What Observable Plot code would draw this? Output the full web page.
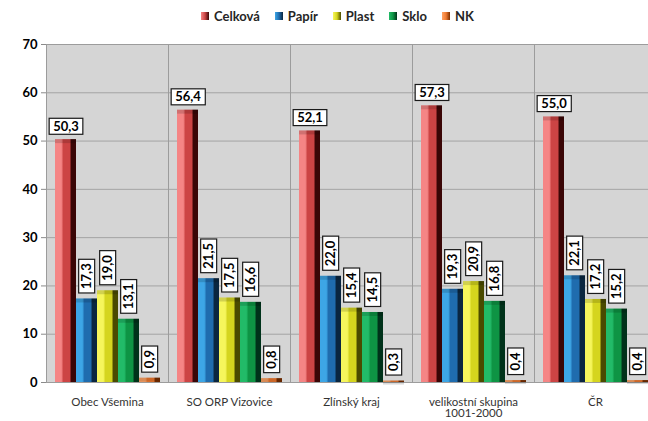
<!DOCTYPE html>
<html><head><meta charset="utf-8">
<script src="https://cdn.jsdelivr.net/npm/d3@7"></script>
<script src="https://cdn.jsdelivr.net/npm/@observablehq/plot@0.6"></script>
<style>
html,body{margin:0;padding:0;background:#fff;overflow:hidden;width:648px;height:421px}
#legend{height:32px;display:flex;align-items:center;padding-left:201px;box-sizing:border-box;font-family:Lato,"Open Sans",sans-serif;font-weight:bold;font-size:13px;color:#262626}
.item{display:flex;align-items:center;margin-right:15px}
.sw{width:8px;height:8px;margin-right:5px}
#chart{width:658px}
</style></head><body>
<svg width="0" height="0" style="position:absolute"><defs id="defs"></defs></svg>
<div id="legend"></div><div id="chart"></div>
<script>
const categories = ["Obec Všemina", "SO ORP Vizovice", "Zlínský kraj", "velikostní skupina\n1001-2000", "ČR"];
const series = ["Celková", "Papír", "Plast", "Sklo", "NK"];
const celkova = [50.3, 56.4, 52.1, 57.3, 55.0];
const papir   = [17.3, 21.5, 22.0, 19.3, 22.1];
const plast   = [19.0, 17.5, 15.4, 20.9, 17.2];
const sklo    = [13.1, 16.6, 14.5, 16.8, 15.2];
const nk      = [0.9, 0.8, 0.3, 0.4, 0.4];
const yTicks = [0, 10, 20, 30, 40, 50, 60, 70];
// light, mid, dark shades per series
const shades = [
  ["#f58585", "#cc4444", "#3a0606"],
  ["#3da6e6", "#1f6cae", "#0a2640"],
  ["#f6f65c", "#d5d51e", "#4a4a00"],
  ["#22bb68", "#0e9444", "#00321a"],
  ["#ffa466", "#f07a30", "#7a2e00"]
];
const values = [celkova, papir, plast, sklo, nk];

// gradients
const defs = document.getElementById("defs");
const NS = "http://www.w3.org/2000/svg";
shades.forEach((s, i) => {
  const g = document.createElementNS(NS, "linearGradient");
  g.setAttribute("id", "g" + i);
  g.setAttribute("x1", "0"); g.setAttribute("x2", "1"); g.setAttribute("y1", "0"); g.setAttribute("y2", "0");
  [[0, s[0]], [0.3, s[0]], [0.4, s[1]], [0.7, s[1]], [0.78, s[2]], [1, s[2]]].forEach(([o, c]) => {
    const st = document.createElementNS(NS, "stop");
    st.setAttribute("offset", o); st.setAttribute("stop-color", c);
    g.appendChild(st);
  });
  defs.appendChild(g);
});

// legend
const leg = document.getElementById("legend");
series.forEach((s, i) => {
  const it = document.createElement("div"); it.className = "item";
  const sw = document.createElement("div"); sw.className = "sw";
  sw.style.background = `linear-gradient(to right, ${shades[i][0]} 0%, ${shades[i][1]} 50%, ${shades[i][2]} 100%)`;
  const t = document.createElement("span"); t.textContent = s;
  it.appendChild(sw); it.appendChild(t); leg.appendChild(it);
});

const rows = categories.flatMap((c, i) => series.map((s, j) => ({category: c, series: s, idx: j, value: values[j][i]})));
const fmt = d => d.value.toFixed(1).replace(".", ",");

const plot = Plot.plot({
  width: 658, height: 389,
  marginLeft: 46, marginRight: 2, marginTop: 12, marginBottom: 39,
  style: {fontFamily: "Lato, 'Open Sans', sans-serif", background: "transparent", overflow: "visible"},
  fx: {domain: categories, padding: 0, label: null},
  x: {domain: series, paddingInner: 0, paddingOuter: 0.28, axis: null},
  y: {domain: [0, 70], label: null},
  color: {type: "identity"},
  marks: [
    Plot.frame({fill: "#d5d5d5", stroke: "none"}),
    Plot.gridY(yTicks.slice(1, -1), {stroke: "#a4a4a4", strokeOpacity: 1}),
    Plot.frame({stroke: "#9c9c9c"}),
    Plot.barY(rows, {fx: "category", x: "series", y: "value", fill: d => `url(#g${d.idx})`}),
    Plot.barY(rows, {fx: "category", x: "series", y1: "value", y2: "value", insetBottom: -4, fill: "#000", fillOpacity: 0.15}),
    Plot.text(rows.filter(d => d.idx === 0), {fx: "category", x: "series", y: "value", text: fmt, dy: -13,
      fontWeight: "bold", fontSize: 13, fill: "#000"}),
    Plot.text(rows.filter(d => d.idx > 0), {fx: "category", x: "series", y: "value", text: fmt, dy: -10,
      rotate: -90, textAnchor: "start", fontWeight: "bold", fontSize: 13, fill: "#000"}),
    Plot.axisY(yTicks, {tickSize: 5, tickPadding: 4, fontWeight: "bold", fontSize: 13, stroke: "#8a8a8a", fill: "#000", label: null}),
    Plot.axisFx({anchor: "bottom", tickSize: 0, tickPadding: 15, fontSize: 11.5, fill: "#333", label: null})
  ]
});
document.getElementById("chart").appendChild(plot);

// white boxes behind value labels
document.querySelectorAll('g[aria-label="text"] text').forEach(t => {
  const b = t.getBBox();
  const r = document.createElementNS(NS, "rect");
  r.setAttribute("x", b.x - 4);
  r.setAttribute("y", b.y + 0.5);
  r.setAttribute("width", b.width + 8);
  r.setAttribute("height", b.height);
  r.setAttribute("fill", "#fff");
  r.setAttribute("stroke", "#1a1a1a");
  r.setAttribute("stroke-width", "1.2");
  const tr = t.getAttribute("transform");
  if (tr) r.setAttribute("transform", tr);
  t.parentNode.insertBefore(r, t);
});
</script>
</body></html>
